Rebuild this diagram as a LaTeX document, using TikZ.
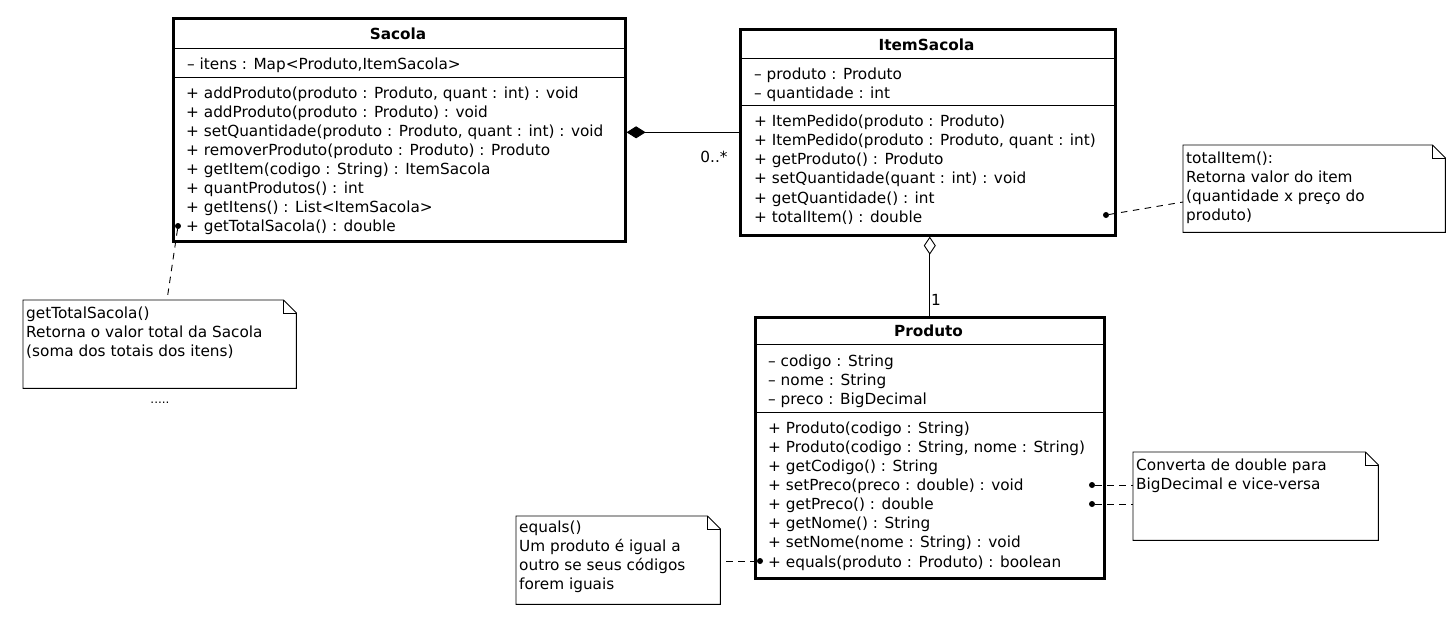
\documentclass[tikz,border=0pt]{standalone}
\usepackage{fontspec}
\setmainfont{DejaVu Sans}
\usetikzlibrary{arrows.meta}
\begin{document}
\begin{tikzpicture}[x=1pt,y=-1pt,
  classbox/.style={draw, line width=2.6pt, rectangle, inner sep=0pt, anchor=north west},
  noteanchor/.style={draw=none, rectangle, inner sep=0pt, anchor=north west},
  notepath/.style={line width=0.9pt},
  txt/.style={anchor=base west, inner sep=0pt, font=\fontsize{15.3}{18}\selectfont},
  ttl/.style={anchor=base, inner sep=0pt, font=\fontsize{15.3}{18}\selectfont\bfseries},
  dotnode/.style={circle, fill, inner sep=0pt, minimum size=6pt},
  conn/.style={line width=0.9pt},
  dashconn/.style={line width=0.9pt, dash pattern=on 6.5pt off 5.5pt},
  divider/.style={line width=0.9pt}]
\useasboundingbox (0,0) rectangle (1455,625);

% ---------- Sacola ----------
\node[classbox, minimum width=452pt, minimum height=223pt] (sacola) at (172,17) {};
\draw[divider] (172,48) -- (624,48);
\draw[divider] (172,77) -- (624,77);
\node[ttl] (sacolaT) at (398,39) {Sacola};
\node[txt] (sacolaA) at (187,69) {– itens : Map<Produto,ItemSacola>};
\foreach \txtline [count=\i] in {
  {+ addProduto(produto : Produto, quant : int) : void},
  {+ addProduto(produto : Produto) : void},
  {+ setQuantidade(produto : Produto, quant : int) : void},
  {+ removerProduto(produto : Produto) : Produto},
  {+ getItem(codigo : String) : ItemSacola},
  {+ quantProdutos() : int},
  {+ getItens() : List<ItemSacola>},
  {+ getTotalSacola() : double}}
  \node[txt] (sacolaM\i) at (186,{98.3+19*(\i-1)}) {\txtline};

% ---------- ItemSacola ----------
\node[classbox, minimum width=375pt, minimum height=206pt] (item) at (739,28) {};
\draw[divider] (739,58) -- (1114,58);
\draw[divider] (739,105) -- (1114,105);
\node[ttl] (itemT) at (926.5,50) {ItemSacola};
\node[txt] (itemA1) at (754,79) {– produto : Produto};
\node[txt] (itemA2) at (754,98) {– quantidade : int};
\foreach \txtline [count=\i] in {
  {+ ItemPedido(produto : Produto)},
  {+ ItemPedido(produto : Produto, quant : int)},
  {+ getProduto() : Produto},
  {+ setQuantidade(quant : int) : void},
  {+ getQuantidade() : int},
  {+ totalItem() : double}}
  \node[txt] (itemM\i) at (754,{126.3+19.2*(\i-1)}) {\txtline};

% ---------- Produto ----------
\node[classbox, minimum width=349pt, minimum height=261pt] (produto) at (754,316) {};
\draw[divider] (754,344) -- (1103,344);
\draw[divider] (754,412) -- (1103,412);
\node[ttl] (produtoT) at (928.5,336) {Produto};
\foreach \txtline [count=\i] in {
  {– codigo : String},
  {– nome : String},
  {– preco : BigDecimal}}
  \node[txt] (produtoA\i) at (768,{366+19*(\i-1)}) {\txtline};
\foreach \txtline [count=\i] in {
  {+ Produto(codigo : String)},
  {+ Produto(codigo : String, nome : String)},
  {+ getCodigo() : String},
  {+ setPreco(preco : double) : void},
  {+ getPreco() : double},
  {+ getNome() : String},
  {+ setNome(nome : String) : void},
  {+ equals(produto : Produto) : boolean}}
  \node[txt] (produtoM\i) at (768,{433.3+19.1*(\i-1)}) {\txtline};

% ---------- associations ----------
\draw[conn, -{Diamond[length=19pt,width=12pt]}] (item.west) -- (item.west -| sacola.east);
\node[txt, anchor=base] (mult1) at (714,162) {0..*};
\draw[conn, -{Diamond[open,length=18pt,width=12pt]}] (produto.north) -- (produto.north |- item.south);
\node[txt] (mult2) at (931,305) {1};

% ---------- notes ----------
\newcommand{\drawnote}[1]{%
  \draw[notepath] (#1.north west) -- ([xshift=-13pt]#1.north east)
    -- ([yshift=-13pt]#1.north east) -- (#1.south east) -- (#1.south west) -- cycle;
  \draw[notepath] ([xshift=-13pt]#1.north east) -- ([xshift=-13pt,yshift=-13pt]#1.north east)
    -- ([yshift=-13pt]#1.north east);}

% note getTotalSacola
\node[noteanchor, minimum width=273pt, minimum height=88pt] (noteA) at (23,300) {};
\drawnote{noteA}
\node[txt] (noteA1) at (26,318.5) {getTotalSacola()};
\node[txt] (noteA2) at (26,337.5) {Retorna o valor total da Sacola};
\node[txt] (noteA3) at (26,356.5) {(soma dos totais dos itens)};
\node[txt, anchor=base, font=\fontsize{12}{14}\selectfont] (dots) at (160,403) {.....};
\node[dotnode] (dA) at (178,226) {};
\coordinate (nA) at (167,300);
\draw[dashconn] (dA) -- (nA);

% note totalItem
\node[noteanchor, minimum width=262pt, minimum height=87pt] (noteB) at (1183,145) {};
\drawnote{noteB}
\node[txt] (noteB1) at (1186,163.5) {totalItem():};
\node[txt] (noteB2) at (1186,182.5) {Retorna valor do item};
\node[txt] (noteB3) at (1186,201.5) {(quantidade x preço do};
\node[txt] (noteB4) at (1186,220.5) {produto)};
\node[dotnode] (dB) at (1106,215) {};
\coordinate (nB) at (1183,202);
\draw[dashconn] (dB) -- (nB);

% note Converta
\node[noteanchor, minimum width=245pt, minimum height=88pt] (noteC) at (1133,452) {};
\drawnote{noteC}
\node[txt] (noteC1) at (1136,470.5) {Converta de double para};
\node[txt] (noteC2) at (1136,489.5) {BigDecimal e vice-versa};
\node[dotnode] (dC1) at (1092,485) {};
\node[dotnode] (dC2) at (1092,504) {};
\coordinate (nC1) at (1133,485);
\coordinate (nC2) at (1133,504);
\draw[dashconn] (dC1) -- (nC1);
\draw[dashconn] (dC2) -- (nC2);

% note equals
\node[noteanchor, minimum width=204pt, minimum height=88pt] (noteD) at (516,516) {};
\drawnote{noteD}
\node[txt] (noteD1) at (519,532.5) {equals()};
\node[txt] (noteD2) at (519,551.5) {Um produto é igual a};
\node[txt] (noteD3) at (519,570.5) {outro se seus códigos};
\node[txt] (noteD4) at (519,589.5) {forem iguais};
\node[dotnode] (dD) at (760,561) {};
\coordinate (nD) at (720,561);
\draw[dashconn] (dD) -- (nD);
\end{tikzpicture}
\end{document}
